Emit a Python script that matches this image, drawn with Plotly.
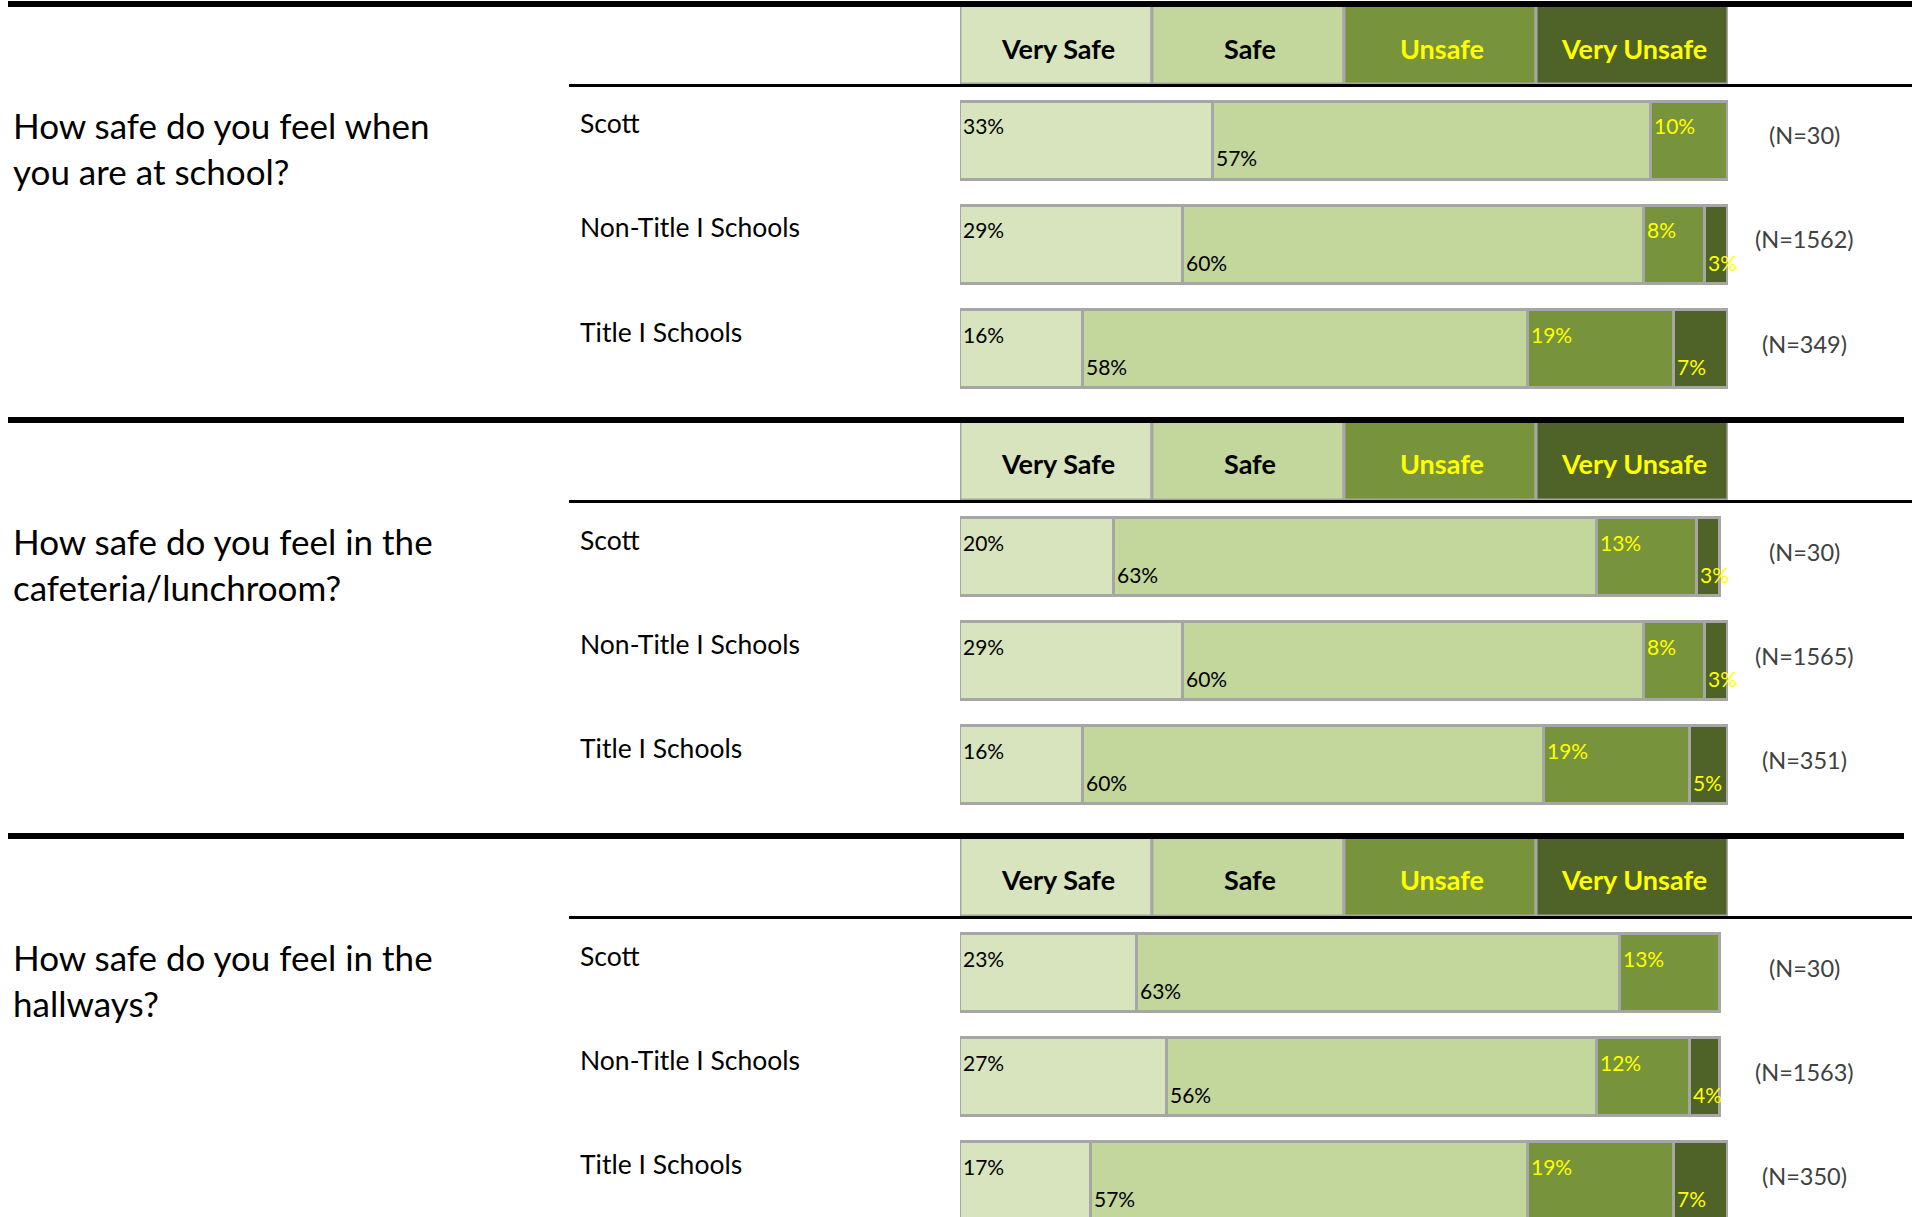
import plotly.graph_objects as go

W, H = 1916, 1217

# ---- data -------------------------------------------------------------
levels = ["Very Safe", "Safe", "Unsafe", "Very Unsafe"]
level_colors = ["#d7e4bd", "#c3d69b", "#77933c", "#4f6228"]
level_text_colors = ["#000000", "#000000", "#ffff00", "#ffff00"]

groups = ["Scott", "Non-Title I Schools", "Title I Schools"]

questions = [
    "How safe do you feel when<br>you are at school?",
    "How safe do you feel in the<br>cafeteria/lunchroom?",
    "How safe do you feel in the<br>hallways?",
]

# percent of respondents per group (rows) and answer level (columns)
school_pct = [[33, 57, 10, 0], [29, 60, 8, 3], [16, 58, 19, 7]]
cafeteria_pct = [[20, 63, 13, 3], [29, 60, 8, 3], [16, 60, 19, 5]]
hallways_pct = [[23, 63, 13, 0], [27, 56, 12, 4], [17, 57, 19, 7]]

school_n = [30, 1562, 349]
cafeteria_n = [30, 1565, 351]
hallways_n = [30, 1563, 350]

panels = [
    (questions[0], school_pct, school_n),
    (questions[1], cafeteria_pct, cafeteria_n),
    (questions[2], hallways_pct, hallways_n),
]

# ---- layout helpers (pixel -> paper) -----------------------------------
FONT = "Lato, 'Open Sans', sans-serif"
BORDER = "#a6a6a6"
PANEL_STEP = 416          # vertical distance between question blocks
ROW_PITCH = 104           # pixels per group row
BAR_LEFT, BAR_RIGHT = 960, 1728


def px(x):
    return x / W


def py(y):
    return 1 - y / H


fig = go.Figure()
shapes = []
annotations = []
layout_axes = {}

for s, (question, pct, n_vals) in enumerate(panels):
    off = PANEL_STEP * s
    ax = "" if s == 0 else str(s + 1)
    xref, yref = "x" + ax, "y" + ax

    # stacked bars, one trace per answer level
    for j, level in enumerate(levels):
        vals = [row[j] if row[j] > 0 else None for row in pct]
        fig.add_trace(go.Bar(
            y=groups, x=vals, orientation="h", name=level,
            width=0.755,
            marker=dict(color=level_colors[j], line=dict(color=BORDER, width=3)),
            xaxis=xref, yaxis=yref, showlegend=False, hoverinfo="skip",
        ))

    # percentage labels: first/third level at the top, second/fourth at the bottom
    for i, g in enumerate(groups):
        start = 0
        for j, v in enumerate(pct[i]):
            if v > 0:
                annotations.append(dict(
                    x=start, y=g, xref=xref, yref=yref,
                    text=f"{v}%", showarrow=False,
                    xanchor="left", yanchor="middle", xshift=1,
                    yshift=14.5 if j % 2 == 0 else -17.5,
                    font=dict(family=FONT, size=21, color=level_text_colors[j]),
                ))
            start += v
        # group name
        annotations.append(dict(
            x=px(578), y=g, xref="paper", yref=yref, text=g, showarrow=False,
            xanchor="left", yanchor="middle", yshift=17,
            font=dict(family=FONT, size=26.5, color="#000000"),
        ))
        # sample size
        annotations.append(dict(
            x=px(1804), y=g, xref="paper", yref=yref, text=f"(N={n_vals[i]})",
            showarrow=False, xanchor="center", yanchor="middle", yshift=5,
            font=dict(family=FONT, size=23.5, color="#404040"),
        ))

    # question text
    annotations.append(dict(
        x=px(11), y=py(148 + off), xref="paper", yref="paper", text=question,
        showarrow=False, xanchor="left", yanchor="middle", align="left",
        font=dict(family=FONT, size=35, color="#000000"),
    ))

    # header row of answer levels
    for j, level in enumerate(levels):
        shapes.append(dict(
            type="rect", xref=xref, yref="paper",
            x0=25 * j, x1=25 * (j + 1), y0=py(84 + off), y1=py(5 + off),
            fillcolor=level_colors[j], line=dict(color=BORDER, width=3),
            layer="above",
        ))
        annotations.append(dict(
            x=25 * j + 12.5, y=py(48 + off), xref=xref, yref="paper",
            text=f"<b>{level}</b>", showarrow=False,
            xanchor="center", yanchor="middle", xshift=2,
            font=dict(family=FONT, size=27, color=level_text_colors[j]),
        ))

    # rules: block separator and header underline
    shapes.append(dict(
        type="line", xref="paper", yref="paper",
        x0=px(8), x1=px(1912 if s == 0 else 1904), y0=py(4 + off), y1=py(4 + off),
        line=dict(color="#000000", width=6), layer="above",
    ))
    shapes.append(dict(
        type="line", xref="paper", yref="paper",
        x0=px(569), x1=px(1912), y0=py(85.5 + off), y1=py(85.5 + off),
        line=dict(color="#000000", width=3), layer="above",
    ))

    # axes for this block
    top = 88.5 + off
    bottom = min(400.5 + off, H)
    span = (bottom - top) / ROW_PITCH
    layout_axes["xaxis" + ax] = dict(
        domain=[px(BAR_LEFT), px(BAR_RIGHT)], range=[0, 100],
        visible=False, fixedrange=True, anchor=yref,
    )
    layout_axes["yaxis" + ax] = dict(
        domain=[py(bottom), py(top)], range=[-0.5 + span, -0.5],
        type="category", categoryorder="array", categoryarray=groups,
        visible=False, fixedrange=True, anchor=xref,
    )

fig.update_layout(
    width=W, height=H,
    margin=dict(l=0, r=0, t=0, b=0),
    paper_bgcolor="#ffffff", plot_bgcolor="#ffffff",
    barmode="stack", bargap=0,
    shapes=shapes, annotations=annotations,
    **layout_axes,
)

fig.write_html("out.html", config={"displayModeBar": False})
